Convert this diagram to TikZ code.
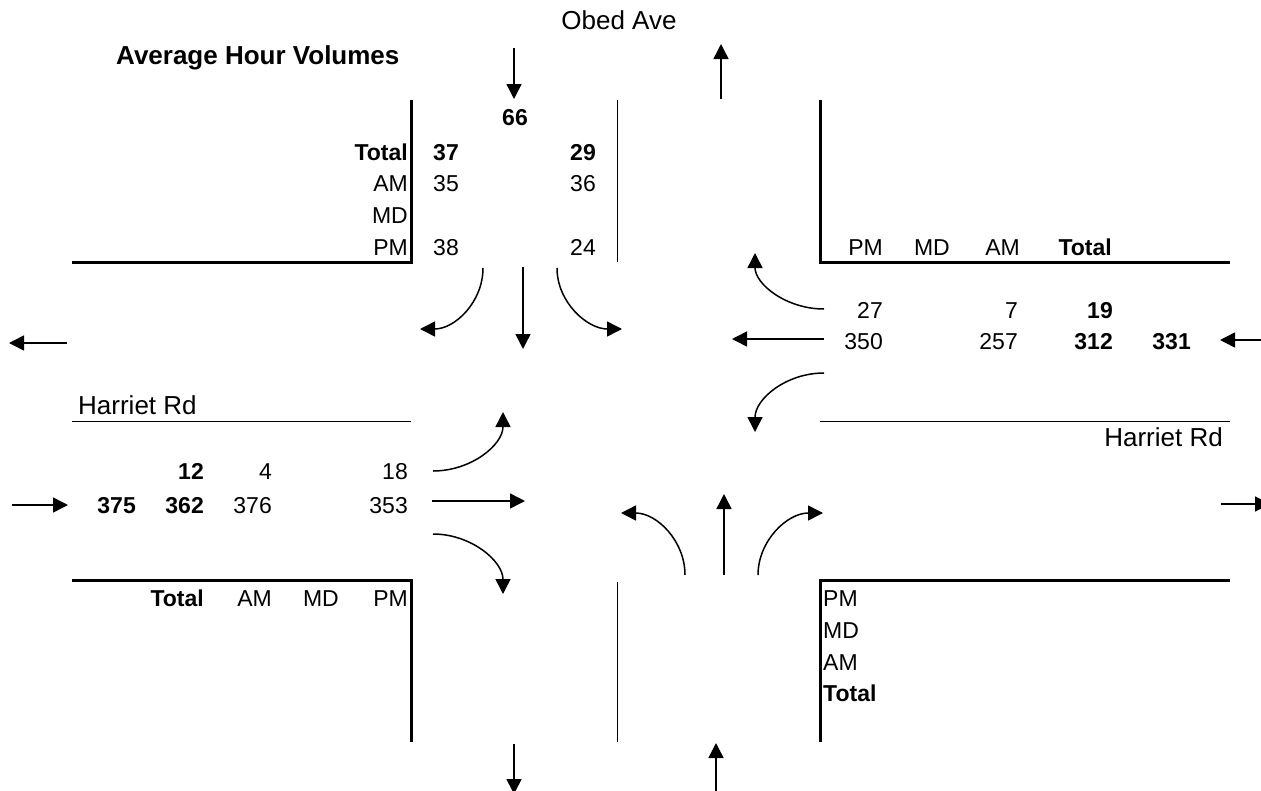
\documentclass[tikz,border=0pt]{standalone}
\usepackage{fontspec}
\setmainfont{Liberation Sans}
\usetikzlibrary{arrows.meta}
\tikzset{
  tx/.style={font=\fontsize{23}{27}\selectfont, inner sep=0pt},
  tb/.style={font=\fontsize{23}{27}\selectfont\bfseries, inner sep=0pt},
  street/.style={font=\fontsize{26}{30}\selectfont, inner sep=0pt},
  title/.style={font=\fontsize{26}{30}\selectfont\bfseries, inner sep=0pt},
  flow/.style={line width=1.5pt, -{Triangle[length=15pt,width=15pt]}},
  kerb/.style={line width=3pt},
  thinline/.style={line width=1pt},
}
\begin{document}
\begin{tikzpicture}[x=1pt,y=-1pt]
\useasboundingbox (0,0) rectangle (1261,790);
\clip (0,0) rectangle (1261,790);
\fill[white] (0,0) rectangle (1261,790);

% road edges
\draw[kerb, line join=miter] (411,100) -- (411,262) -- (72,262);
\draw[thinline] (617,100) -- (617,262);
\draw[kerb, line join=miter] (820,100) -- (820,262) -- (1230,262);
\draw[thinline] (72,421) -- (411,421);
\draw[thinline] (820,421) -- (1230,421);
\draw[kerb, line join=miter] (72,580) -- (411,580) -- (411,742);
\draw[thinline] (617,582) -- (617,742);
\draw[kerb, line join=miter] (820,742) -- (820,580) -- (1230,580);

% titles and street names
\node[street] (obed) at (619,20) {Obed Ave};
\node[title, anchor=base west] (ahv) at (116,64) {Average Hour Volumes};
\node[street, anchor=base west] (hrw) at (78,414) {Harriet Rd};
\node[street, anchor=base east] (hre) at (1223,446) {Harriet Rd};

% north approach table
\node[tb] (n66) at (515,118) {66};
\node[tb, anchor=base east] (nlT) at (408,160) {Total};
\node[tx, anchor=base east] (nlA) at (408,191) {AM};
\node[tx, anchor=base east] (nlM) at (408,223) {MD};
\node[tx, anchor=base east] (nlP) at (408,255) {PM};
\node[tb, anchor=base east] (n37) at (459,160) {37};
\node[tx, anchor=base east] (n35) at (459,191) {35};
\node[tx, anchor=base east] (n38) at (459,255) {38};
\node[tb, anchor=base east] (n29) at (596,160) {29};
\node[tx, anchor=base east] (n36) at (596,191) {36};
\node[tx, anchor=base east] (n24) at (596,255) {24};

% east approach table
\node[tx, anchor=base east] (ehP) at (883,255) {PM};
\node[tx, anchor=base east] (ehM) at (950,255) {MD};
\node[tx, anchor=base east] (ehA) at (1020,255) {AM};
\node[tb, anchor=base east] (ehT) at (1112,255) {Total};
\node[tx, anchor=base east] (e27) at (883,318) {27};
\node[tx, anchor=base east] (e7) at (1018,318) {7};
\node[tb, anchor=base east] (e19) at (1113,318) {19};
\node[tx, anchor=base east] (e350) at (883,349) {350};
\node[tx, anchor=base east] (e257) at (1018,349) {257};
\node[tb, anchor=base east] (e312) at (1113,349) {312};
\node[tb, anchor=base east] (e331) at (1191,349) {331};

% west approach table
\node[tb, anchor=base east] (w12) at (204,479) {12};
\node[tx, anchor=base east] (w4) at (272,479) {4};
\node[tx, anchor=base east] (w18) at (408,479) {18};
\node[tb, anchor=base east] (w375) at (136,513) {375};
\node[tb, anchor=base east] (w362) at (204,513) {362};
\node[tx, anchor=base east] (w376) at (272,513) {376};
\node[tx, anchor=base east] (w353) at (408,513) {353};
\node[tb, anchor=base east] (whT) at (204,606) {Total};
\node[tx, anchor=base east] (whA) at (272,606) {AM};
\node[tx, anchor=base east] (whM) at (339,606) {MD};
\node[tx, anchor=base east] (whP) at (408,606) {PM};

% south approach labels
\node[tx, anchor=base west] (sP) at (823,606) {PM};
\node[tx, anchor=base west] (sM) at (823,638) {MD};
\node[tx, anchor=base west] (sA) at (823,670) {AM};
\node[tb, anchor=base west] (sT) at (823,701) {Total};

% arrow end points
\coordinate (nInS) at (514,48);   \coordinate (nInE) at (514,99);
\coordinate (nOutS) at (721,99);  \coordinate (nOutE) at (721,44);
\coordinate (wOutS) at (67,343);  \coordinate (wOutE) at (9,343);
\coordinate (wInS) at (12,505);   \coordinate (wInE) at (68,505);
\coordinate (eInS) at (1262,340); \coordinate (eInE) at (1220,340);
\coordinate (eOutS) at (1221,504);\coordinate (eOutE) at (1270,504);
\coordinate (sOutS) at (514,744); \coordinate (sOutE) at (514,794);
\coordinate (sInS) at (716,791);  \coordinate (sInE) at (716,743);

\draw[flow] (nInS) -- (nInE);
\draw[flow] (nOutS) -- (nOutE);
\draw[flow] (wOutS) -- (wOutE);
\draw[flow] (wInS) -- (wInE);
\draw[flow] (eInS) -- (eInE);
\draw[flow] (eOutS) -- (eOutE);
\draw[flow] (sOutS) -- (sOutE);
\draw[flow] (sInS) -- (sInE);

% southbound movements
\coordinate (sbL0) at (483,268); \coordinate (sbL1) at (420,329);
\coordinate (sbT0) at (523,267); \coordinate (sbT1) at (523,349);
\coordinate (sbR0) at (557,268); \coordinate (sbR1) at (622,329);
\draw[flow] (sbL0) .. controls (483,302) and (455,329) .. (sbL1);
\draw[flow] (sbT0) -- (sbT1);
\draw[flow] (sbR0) .. controls (557,302) and (587,329) .. (sbR1);

% westbound movements
\coordinate (wbR0) at (824,309); \coordinate (wbR1) at (755,253);
\coordinate (wbT0) at (824,339); \coordinate (wbT1) at (732,339);
\coordinate (wbL0) at (824,373); \coordinate (wbL1) at (755,432);
\draw[flow] (wbR0) .. controls (786,309) and (755,284) .. (wbR1);
\draw[flow] (wbT0) -- (wbT1);
\draw[flow] (wbL0) .. controls (786,373) and (755,399) .. (wbL1);

% eastbound movements
\coordinate (ebL0) at (433,471); \coordinate (ebL1) at (503,412);
\coordinate (ebT0) at (432,501); \coordinate (ebT1) at (525,501);
\coordinate (ebR0) at (433,534); \coordinate (ebR1) at (503,594);
\draw[flow] (ebL0) .. controls (471,471) and (503,445) .. (ebL1);
\draw[flow] (ebT0) -- (ebT1);
\draw[flow] (ebR0) .. controls (471,534) and (503,561) .. (ebR1);

% northbound movements
\coordinate (nbL0) at (685,575); \coordinate (nbL1) at (621,513);
\coordinate (nbT0) at (724,575); \coordinate (nbT1) at (724,494);
\coordinate (nbR0) at (758,575); \coordinate (nbR1) at (823,513);
\draw[flow] (nbL0) .. controls (685,541) and (657,513) .. (nbL1);
\draw[flow] (nbT0) -- (nbT1);
\draw[flow] (nbR0) .. controls (758,541) and (787,513) .. (nbR1);
\end{tikzpicture}
\end{document}
